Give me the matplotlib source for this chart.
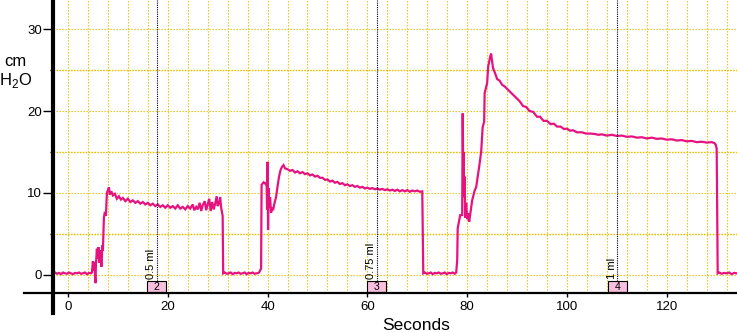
import matplotlib
matplotlib.use("Agg")
import matplotlib.pyplot as plt
from matplotlib.patches import Rectangle
from matplotlib.lines import Line2D

plt.rcParams['font.family'] = ['Liberation Sans', 'DejaVu Sans']
plt.rcParams['mathtext.fontset'] = 'custom'
plt.rcParams['mathtext.rm'] = 'Liberation Sans'

# ---------------- data ----------------
time = [
    -3.0, -2.6, -2.2, -1.8, -1.4, -1.0, -0.6, -0.2, 0.2, 0.6, 1.0, 1.4, 1.8, 2.2, 2.6, 3.0, 3.4, 3.8, 4.2, 4.6,
    4.8, 5.0, 5.1, 5.3, 5.5, 5.6, 5.8, 5.9, 6.1, 6.3, 6.5, 6.7, 6.9, 7.0, 7.2, 7.4, 7.6, 7.8, 8.2, 8.4, 8.7,
    9.0, 9.4, 9.8, 10.2, 10.6, 11.0, 11.5, 12.0, 12.5, 13.0, 13.5, 14.0, 14.5, 15.0, 15.5, 16.0, 16.5, 17.0,
    17.5, 18.0, 18.5, 19.0, 19.5, 20.0, 20.5, 21.0, 21.5, 22.0, 22.5, 23.0, 23.5, 24.0, 24.5, 25.0, 25.3,
    25.7, 26.0, 26.4, 26.7, 27.0, 27.4, 27.7, 28.0, 28.3, 28.6, 28.9, 29.2, 29.5, 29.8, 30.0, 30.3, 30.5,
    30.7, 30.9, 31.0, 31.1,
    31.4, 31.8, 32.2, 32.6, 33.0, 33.4, 33.8, 34.2, 34.6, 35.0, 35.4, 35.8, 36.2, 36.6, 37.0, 37.4, 37.8, 38.2,
    38.4, 38.7, 38.8, 39.2, 39.6, 39.8, 39.9, 40.0, 40.1, 40.2, 40.3, 40.5, 40.7, 40.9, 41.1, 41.4, 41.7,
    42.0, 42.3, 42.6, 42.9, 43.2, 43.5, 44.0, 44.5, 45.0, 45.5, 46.0, 46.5, 47.0, 47.5, 48.0, 48.5, 49.0,
    49.5, 50.0, 50.5, 51.0, 51.5, 52.0, 52.5, 53.0, 53.5, 54.0, 54.5, 55.0, 55.5, 56.0, 56.5, 57.0, 57.5,
    58.0, 58.5, 59.0, 59.5, 60.0, 60.5, 61.0, 61.5, 62.0, 62.5, 63.0, 63.5, 64.0, 64.5, 65.0, 65.5, 66.0,
    66.5, 67.0, 67.5, 68.0, 68.5, 69.0, 69.5, 70.0, 70.5, 71.0, 71.2,
    71.5, 71.9, 72.3, 72.7, 73.1, 73.5, 73.9, 74.3, 74.7, 75.1, 75.5, 75.9, 76.3, 76.7, 77.1, 77.5, 77.8,
    78.0, 78.1, 78.5, 78.6, 79.0, 79.1, 79.2, 79.3, 79.4, 79.5, 79.6, 79.8, 80.0, 80.2, 80.4, 80.7, 81.0,
    81.5, 81.8, 82.4, 82.8, 83.1, 83.4, 83.5, 84.0, 84.2, 84.6, 84.8, 85.0, 85.2, 85.6, 86.0, 86.5, 87.0,
    87.5, 88.0, 88.5, 89.0, 89.5, 90.0, 90.5, 91.2, 91.8, 92.5, 93.2, 94.0, 94.6, 95.3, 96.0, 96.7, 97.4,
    98.0, 98.7, 99.4, 100.0, 100.6, 101.2, 102.0, 103.0, 103.8, 104.6, 105.5, 106.3, 107.0, 108.0, 109.0,
    110.0, 111.0, 112.0, 113.0, 114.0, 115.0, 116.0, 117.0, 118.0, 119.0, 120.0, 121.0, 122.0, 123.0,
    124.0, 125.0, 126.0, 127.0, 128.0, 129.0, 129.5, 129.8, 130.0, 130.2,
    130.5, 131.0, 131.5, 132.0, 132.5, 133.0, 133.5, 134.0,
]
pressure = [
    0.2, 0.3, 0.15, 0.25, 0.1, 0.3, 0.2, 0.15, 0.3, 0.2, 0.1, 0.25, 0.2, 0.3, 0.15, 0.2, 0.3, 0.1, 0.25, 0.2,
    0.3, 1.7, 0.5, 1.6, -1.0, 1.2, 3.2, 2.0, 3.4, 1.5, 3.0, 1.0, 3.6, 3.0, 7.0, 7.7, 7.2, 10.0, 10.7, 9.8, 10.2,
    9.7, 9.9, 9.3, 9.6, 9.2, 9.4, 9.0, 9.3, 8.9, 9.1, 8.8, 9.0, 8.7, 8.9, 8.6, 8.8, 8.5, 8.7,
    8.4, 8.6, 8.3, 8.5, 8.2, 8.5, 8.2, 8.4, 8.1, 8.5, 8.1, 8.3, 8.0, 8.4, 8.1, 8.6, 7.9,
    8.3, 8.0, 8.8, 7.8, 8.5, 9.0, 7.9, 8.6, 9.3, 7.8, 8.9, 8.0, 8.7, 9.6, 8.4, 8.8, 9.5,
    8.2, 7.5, 7.2, 0.2,
    0.3, 0.15, 0.2, 0.3, 0.1, 0.25, 0.2, 0.3, 0.15, 0.2, 0.3, 0.1, 0.25, 0.2, 0.3, 0.15, 0.2, 0.25,
    0.4, 0.8, 11.0, 11.3, 11.1, 11.3, 8.0, 13.8, 5.5, 10.6, 8.2, 9.5, 7.6, 8.2, 7.9, 8.8, 9.5,
    10.8, 12.0, 12.8, 13.2, 13.4, 13.0, 12.9, 12.7, 12.8, 12.5, 12.65, 12.4, 12.55, 12.3, 12.4, 12.15, 12.25,
    12.0, 12.1, 11.85, 11.85, 11.6, 11.65, 11.4, 11.5, 11.25, 11.35, 11.1, 11.2, 10.95, 11.05, 10.85, 10.95,
    10.75, 10.85, 10.65, 10.75, 10.55, 10.65, 10.5, 10.6, 10.45, 10.55, 10.4, 10.5, 10.35, 10.45, 10.3, 10.4,
    10.25, 10.4, 10.2, 10.35, 10.2, 10.35, 10.15, 10.3, 10.2, 10.3, 10.15, 10.2, 0.2,
    0.3, 0.15, 0.2, 0.3, 0.1, 0.25, 0.2, 0.3, 0.15, 0.2, 0.3, 0.1, 0.25, 0.2, 0.3, 0.15, 0.3,
    1.8, 5.7, 7.0, 7.3, 7.3, 19.7, 13.4, 15.0, 9.5, 12.0, 7.0, 8.8, 6.8, 7.5, 6.5, 7.8, 9.1,
    10.3, 10.7, 13.2, 15.0, 18.0, 18.7, 22.2, 23.4, 25.4, 26.6, 27.0, 26.0, 25.2, 24.6, 23.9, 23.7, 23.2,
    23.0, 22.7, 22.4, 22.1, 21.8, 21.5, 21.2, 20.6, 20.5, 20.0, 19.9, 19.3, 19.3, 18.8, 18.8, 18.4, 18.45,
    18.1, 18.1, 17.8, 17.85, 17.6, 17.65, 17.4, 17.4, 17.25, 17.25, 17.2, 17.1, 17.15, 17.0, 17.1,
    16.95, 17.0, 16.85, 16.9, 16.75, 16.8, 16.65, 16.75, 16.6, 16.65, 16.5, 16.55, 16.4, 16.45,
    16.3, 16.35, 16.2, 16.25, 16.15, 16.2, 16.1, 15.9, 15.4, 0.2,
    0.3, 0.15, 0.25, 0.2, 0.3, 0.1, 0.25, 0.2,
]

marker_times = [17.8, 61.9, 110.1]
marker_labels = ["0.5 ml", "0.75 ml", "1 ml"]
marker_ids = ["2", "3", "4"]

x_ticks = [0, 20, 40, 60, 80, 100, 120]
y_ticks = [0, 10, 20, 30]
y_minor = [5, 15, 25]
x_grid = list(range(0, 134, 4))
y_grid = [0, 5, 10, 15, 20, 25, 30]

# ---------------- figure ----------------
W, H = 737, 332
fig = plt.figure(figsize=(W / 100, H / 100), dpi=100)
ax = fig.add_axes([53 / W, (H - 293) / H, (W - 53) / W, 293 / H])
ax.set_xlim(-3.0, 134.07)
ax.set_ylim(-2.2, 33.54)

grid_col = '#e8c000'
for gx in x_grid:
    ax.axvline(gx, color=grid_col, lw=0.8, ls=(0, (1.2, 1.5)), zorder=1)
for gy in y_grid:
    if gy % 10 == 5:
        ax.axhline(gy, color=grid_col, lw=1.0, ls=(0, (1.2, 0.9)), zorder=1)
    else:
        ax.axhline(gy, color=grid_col, lw=0.8, ls=(0, (1.2, 1.5)), zorder=1)

ax.plot(time, pressure, color='#e6137f', lw=1.6, zorder=3, solid_joinstyle='miter')

for mt, lab, mid in zip(marker_times, marker_labels, marker_ids):
    ax.plot([mt, mt], [-0.75, 33.54], color='black', lw=0.8, ls=(0, (1, 1)), zorder=4)
    ax.text(mt - 0.15, -0.55, lab, rotation=90, ha='right', va='bottom',
            fontsize=8, color='black', zorder=5)
    ax.add_patch(Rectangle((mt - 1.9, -2.1), 3.8, 1.34, facecolor='#f8c0de',
                           edgecolor='black', lw=0.8, zorder=5, clip_on=False))
    ax.text(mt, -1.43, mid, ha='center', va='center', fontsize=7.5, zorder=6)

for s in ax.spines.values():
    s.set_visible(False)

ax.set_xticks(x_ticks)
ax.set_yticks(y_ticks)
ax.set_yticks(y_minor, minor=True)
ax.tick_params(axis='y', which='major', length=7, width=1, pad=1, labelsize=9.5, direction='out')
ax.tick_params(axis='y', which='minor', length=2.5, width=1, direction='out')
ax.tick_params(axis='x', which='major', length=3, width=1, pad=3, labelsize=9.5, direction='out')

# heavy axis lines drawn in figure coords
fig.add_artist(Line2D([53 / W, 53 / W], [1.0, (H - 313) / H], color='black', lw=3, transform=fig.transFigure, zorder=10))
fig.add_artist(Line2D([24 / W, 1.0], [(H - 293) / H, (H - 293) / H], color='black', lw=1.6, transform=fig.transFigure, zorder=10))

fig.text(416 / W, 1 - 325 / H, "Seconds", ha='center', va='center', fontsize=12.5)
fig.text(15 / W, 1 - 61 / H, "cm", ha='center', va='center', fontsize=12)
fig.text(16 / W, 1 - 81 / H, r"H$_2$O", ha='center', va='center', fontsize=12)

fig.savefig("out.png", dpi=100)
